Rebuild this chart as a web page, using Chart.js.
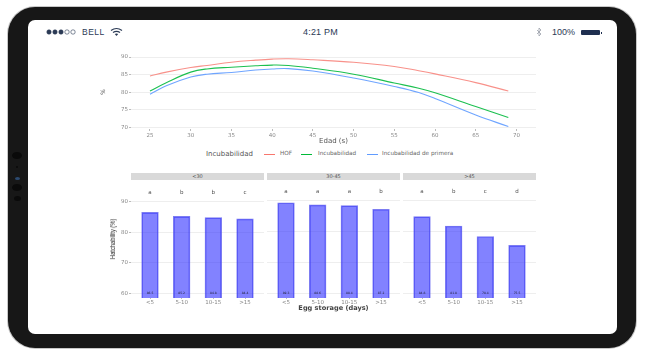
<!DOCTYPE html>
<html><head><meta charset="utf-8">
<script src="https://cdn.jsdelivr.net/npm/chart.js@4/dist/chart.umd.min.js"></script>
<style>
html,body{margin:0;padding:0;background:#fff;width:647px;height:359px;overflow:hidden}
#stage{position:absolute;left:0;top:0;width:647px;height:359px;filter:blur(.6px);font-family:"DejaVu Sans",sans-serif}
#frame{position:absolute;left:8px;top:7px;width:628px;height:341px;background:#171717;border-radius:27px;box-shadow:0 0 0 1px #c8c8c8}
#screen{position:absolute;left:28px;top:20px;width:589px;height:314px;background:#fff;border-radius:7px}
canvas{position:absolute}
.t{position:absolute;white-space:nowrap;line-height:1}
.strip{position:absolute;top:173px;height:7px;background:#d9d9d9;color:#555;font-size:5px;line-height:7px;text-align:center}
.sw{position:absolute;height:1px;top:154px;width:11px}
.cam{position:absolute;background:#0a0a0a;border-radius:50%}
</style></head><body>
<div id="stage">
<div id="frame"></div><div id="screen"></div>
<div class="cam" style="left:12px;top:152px;width:10px;height:7px"></div>
<div class="cam" style="left:16px;top:166px;width:2px;height:2px"></div>
<div class="cam" style="left:15px;top:177px;width:5px;height:3px;background:#2c4a70"></div>
<div class="cam" style="left:12px;top:184px;width:10px;height:7px"></div>
<div class="cam" style="left:14px;top:196px;width:7px;height:5px"></div>

<svg style="position:absolute;left:46px;top:28px" width="32" height="8"><g stroke="#2b3a55" stroke-width=".6"><circle cx="3" cy="4" r="2.2" fill="#2b3a55"/><circle cx="9" cy="4" r="2.2" fill="#2b3a55"/><circle cx="15" cy="4" r="2.2" fill="#2b3a55"/><circle cx="21" cy="4" r="2.2" fill="none"/><circle cx="27" cy="4" r="2.2" fill="none"/></g></svg>
<div class="t" style="left:82px;top:27.5px;font-family:'Liberation Sans';font-size:8.5px;color:#2b3a55;letter-spacing:.5px">BELL</div>
<svg style="position:absolute;left:110px;top:27px" width="13" height="10"><g fill="none" stroke="#2b3a55" stroke-width="1.2"><path d="M1 3.5Q6.5-.5 12 3.5"/><path d="M3 5.6Q6.5 3 10 5.6"/></g><path d="M4.8 7Q6.5 5.8 8.2 7L6.5 9Z" fill="#2b3a55"/></svg>
<div class="t" style="left:303px;top:27.5px;font-family:'Liberation Sans';font-size:9px;color:#2b3a55;letter-spacing:.2px">4:21 PM</div>
<svg style="position:absolute;left:536px;top:27px" width="6" height="10"><path d="M1 3L5 7L3 9V1L5 3L1 7" fill="none" stroke="#9aa0aa" stroke-width=".8"/></svg>
<div class="t" style="left:552px;top:27.5px;font-family:'Liberation Sans';font-size:9px;color:#2b3a55">100%</div>
<div style="position:absolute;left:581px;top:30px;width:19px;height:5px;background:#1f2f50;border-radius:1px"></div>
<div style="position:absolute;left:600.5px;top:31.5px;width:1px;height:2px;background:#1f2f50"></div>

<canvas id="lineChart" style="left:100px;top:45px" width="445" height="100"></canvas>
<div class="t" style="left:206px;top:150.5px;font-size:7px;color:#555">Incubabilidad</div>
<div class="sw" style="left:264px;background:#F8766D"></div>
<div class="t" style="left:280px;top:151px;font-size:5.7px;color:#666">HOF</div>
<div class="sw" style="left:301px;background:#00BA38"></div>
<div class="t" style="left:318px;top:151px;font-size:5.7px;color:#666">Incubabilidad</div>
<div class="sw" style="left:367px;background:#619CFF"></div>
<div class="t" style="left:382px;top:151px;font-size:5.7px;color:#666">Incubabilidad de primera</div>

<div class="strip" style="left:131px;width:133px">&lt;30</div>
<div class="strip" style="left:267px;width:133px">30-45</div>
<div class="strip" style="left:403px;width:133px">&gt;45</div>
<canvas id="bar1" style="left:100px;top:180px" width="164" height="133"></canvas>
<canvas id="bar2" style="left:267px;top:180px" width="133" height="133"></canvas>
<canvas id="bar3" style="left:403px;top:180px" width="133" height="133"></canvas>
<div class="t" style="left:113px;top:239px;font-family:'Liberation Sans';font-size:8px;color:#222;transform:translate(-50%,-50%) rotate(-90deg) scaleX(.72)">Hatchability (%)</div>
</div>
<script>
const ages       = [25,27,30,32,35,38,40,42,45,50,55,58,60,65,69];
const hofValues  = [84.6,85.7,87.0,87.6,88.5,89.1,89.4,89.5,89.2,88.5,87.3,86.1,85.2,82.7,80.3];
const incValues  = [80.3,82.7,85.7,86.6,87.1,87.5,87.7,87.6,86.8,85.1,82.6,81.1,79.8,75.9,72.8];
const firstValues= [79.4,81.8,84.3,85.1,85.6,86.3,86.6,86.7,86.0,84.0,81.6,79.9,78.2,73.5,70.2];
const lineYTicks = [70,75,80,85,90];
const lineXTicks = [25,30,35,40,45,50,55,60,65,70];
const storage    = ['<5','5-10','10-15','>15'];
const barYTicks  = [60,70,80,90];
const panelA     = [86.5,85.2,84.8,84.4];
const panelB     = [89.3,88.6,88.4,87.2];
const panelC     = [84.8,81.8,78.4,75.5];
const lettersA   = ['a','b','b','c'];
const lettersB   = ['a','a','a','b'];
const lettersC   = ['a','b','c','d'];

const FONT='"DejaVu Sans", sans-serif';
const pts=v=>ages.map((a,i)=>({x:a,y:v[i]}));
const fixTicks=list=>(s)=>{s.ticks=list.map(v=>({value:v}))};
const line=(label,color,v)=>({label,data:pts(v),borderColor:color,borderWidth:1.1,pointRadius:0,tension:.4,fill:false});

new Chart(document.getElementById('lineChart'),{
  type:'line',
  data:{datasets:[line('HOF','#F8918A',hofValues),line('Incubabilidad','#1CC050',incValues),line('Incubabilidad de primera','#6FA5FF',firstValues)]},
  options:{responsive:false,animation:false,
    layout:{padding:{top:10,right:9,left:0,bottom:0}},
    plugins:{legend:{display:false},tooltip:{enabled:false}},
    scales:{
      x:{type:'linear',min:22.67,max:72.4,afterBuildTicks:fixTicks(lineXTicks),
        afterFit(s){s.height=16;s.paddingLeft=0;s.paddingRight=0},
        border:{display:false},
        grid:{drawOnChartArea:false,drawTicks:true,tickLength:2,tickColor:'#bbb'},
        ticks:{font:{family:FONT,size:5.5},color:'#888',padding:1,maxRotation:0,autoSkip:false},
        title:{display:true,text:'Edad (s)',font:{family:FONT,size:7},color:'#555',padding:0}},
      y:{type:'linear',min:69.5,max:90.57,afterBuildTicks:fixTicks(lineYTicks),
        afterFit(s){s.width=31},
        border:{display:false},
        grid:{color:'#eeeeee',lineWidth:1,tickColor:'#bbb',tickLength:2},
        ticks:{font:{family:FONT,size:5.5},color:'#888',padding:1},
        title:{display:true,text:'%',font:{family:FONT,size:6},color:'#555',padding:{top:0,bottom:0}}}
    }}
});

const labelPlugin=(letters)=>({id:'lbl',afterDatasetsDraw(c){
  const {ctx,scales:{x,y}}=c;const d=c.data.datasets[0].data;
  ctx.save();ctx.textAlign='center';ctx.textBaseline='middle';
  d.forEach((p,i)=>{
    ctx.font='5.5px '+FONT;ctx.fillStyle='#555';ctx.fillText(letters[i],x.getPixelForValue(p.x),y.getPixelForValue(93));
    ctx.font='3px '+FONT;ctx.fillStyle='#223';ctx.fillText(p.y.toFixed(1),x.getPixelForValue(p.x),y.getPixelForValue(60));
  });ctx.restore();
}});

function barChart(id,values,letters,isFirst,xTitle){
  new Chart(document.getElementById(id),{
    type:'bar',
    data:{datasets:[{data:values.map((v,i)=>({x:i+1,y:v})),backgroundColor:'rgba(40,40,255,0.58)',borderColor:'rgba(70,70,235,0.7)',borderWidth:1,barThickness:16.7}]},
    plugins:[labelPlugin(letters)],
    options:{responsive:false,animation:false,
      layout:{padding:{top:3,left:0,right:0,bottom:0}},
      plugins:{legend:{display:false},tooltip:{enabled:false}},
      scales:{
        x:{type:'linear',offset:false,min:0.4,max:4.6,afterBuildTicks:fixTicks([1,2,3,4]),
          afterFit(s){s.height=15;s.paddingLeft=0;s.paddingRight=0},
          border:{display:false},
          grid:{offset:false,drawOnChartArea:false,drawTicks:true,tickLength:1,tickColor:'#bbb'},
          ticks:{font:{family:FONT,size:5.5},color:'#888',padding:0,maxRotation:0,autoSkip:false,callback:v=>storage[v-1]},
          title:{display:!!xTitle,text:xTitle||'',font:{family:FONT,size:6.6,weight:'bold'},color:'#444',padding:{top:0,bottom:1}}},
        y:{type:'linear',min:58.5,max:95.7,afterBuildTicks:fixTicks(barYTicks),
          afterFit(s){s.width=isFirst?31:0},
          border:{display:false},
          grid:{color:'#eeeeee',lineWidth:1,tickColor:'#bbb',tickLength:isFirst?2:0},
          ticks:{display:isFirst,font:{family:FONT,size:5.5},color:'#888',padding:1}}
      }}
  });
}
barChart('bar1',panelA,lettersA,true);
barChart('bar2',panelB,lettersB,false,'Egg storage (days)');
barChart('bar3',panelC,lettersC,false);
</script>
</body></html>
